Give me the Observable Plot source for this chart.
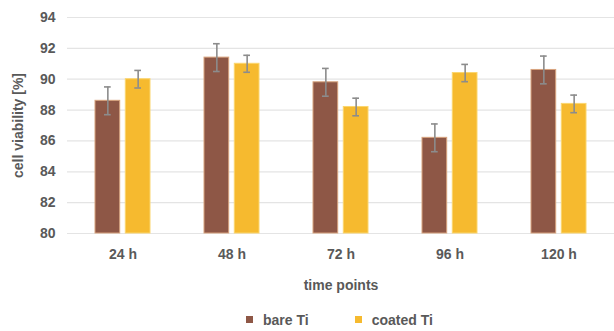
<!DOCTYPE html>
<html>
<head>
<meta charset="utf-8">
<script src="https://cdn.jsdelivr.net/npm/d3@7"></script>
<script src="https://cdn.jsdelivr.net/npm/@observablehq/plot@0.6"></script>
<style>
  html, body { margin: 0; padding: 0; background: #fff; }
  #chart svg { display: block; }
  .legend { display: flex; align-items: center; height: 31px; padding-left: 246px; box-sizing: border-box; padding-top: 8px;
    font-family: "Liberation Sans", Arial, sans-serif; font-weight: bold; font-size: 14px; color: #595959; }
  .legend .sw { width: 7px; height: 7px; display: inline-block; margin-right: 10px; }
  .legend .item { display: flex; align-items: center; }
</style>
</head>
<body>
<div id="chart"></div>
<div class="legend">
  <div class="item"><span class="sw" style="background:#8E5746"></span><span>bare Ti</span></div>
  <div class="item" style="margin-left:46px"><span class="sw" style="background:#F6BA2F"></span><span>coated Ti</span></div>
</div>
<script>
const times = ["24 h", "48 h", "72 h", "96 h", "120 h"];
const series = ["bare Ti", "coated Ti"];
const bareValues = [88.6, 91.4, 89.8, 86.2, 90.6];
const bareErrors = [0.9, 0.9, 0.9, 0.9, 0.9];
const coatedValues = [90.0, 91.0, 88.2, 90.4, 88.4];
const coatedErrors = [0.57, 0.55, 0.57, 0.56, 0.57];
const yTicks = [80, 82, 84, 86, 88, 90, 92, 94];

const bare = times.map((t, i) => ({time: t, value: bareValues[i], err: bareErrors[i]}));
const coated = times.map((t, i) => ({time: t, value: coatedValues[i], err: coatedErrors[i]}));

const font = "Liberation Sans, Arial, sans-serif";
const barW = 24.4;     // px width of each bar
const bandW = 54.7;    // px band width (step 109.4, padding 0.5)
const off = bandW - barW;
const shift = (bandW - barW) / 2;
const errColor = "#8c8c8c";

function seriesMarks(rows, fill, stroke, left) {
  const il = left ? 0 : off, ir = left ? off : 0;
  const dx = left ? -shift : shift;
  return [
    Plot.barY(rows, {x: "time", y1: 80, y2: "value", fill, stroke, strokeWidth: 1, insetLeft: il, insetRight: ir}),
    Plot.ruleX(rows, {x: "time", y1: d => d.value - d.err, y2: d => d.value + d.err, stroke: errColor, strokeWidth: 1.6, dx}),
    Plot.tickY(rows, {x: "time", y: d => d.value - d.err, stroke: errColor, strokeWidth: 1.6, insetLeft: il + 9, insetRight: ir + 9}),
    Plot.tickY(rows, {x: "time", y: d => d.value + d.err, stroke: errColor, strokeWidth: 1.6, insetLeft: il + 9, insetRight: ir + 9})
  ];
}

const chart = Plot.plot({
  width: 614,
  height: 300,
  marginLeft: 67,
  marginRight: 0,
  marginTop: 17,
  marginBottom: 67,
  style: {fontFamily: font, fontSize: "14px", fontWeight: "bold", color: "#595959", background: "#fff"},
  x: {domain: times, paddingInner: 0.5, paddingOuter: 0.25, tickSize: 0, tickPadding: 16,
      label: "time points", labelAnchor: "center", labelOffset: 56},
  y: {domain: [80, 94], ticks: yTicks, tickSize: 0, tickPadding: 12, label: "cell viability [%]",
      labelAnchor: "center", labelOffset: 54, labelArrow: "none"},
  marks: [
    Plot.gridY(yTicks, {stroke: "#e4e4e4", strokeOpacity: 1, strokeWidth: 1.2}),
    ...seriesMarks(bare, "#8E5746", "#D8A37E", true),
    ...seriesMarks(coated, "#F6BA2F", "#FBD66E", false)
  ]
});
document.getElementById("chart").appendChild(chart);
</script>
</body>
</html>
